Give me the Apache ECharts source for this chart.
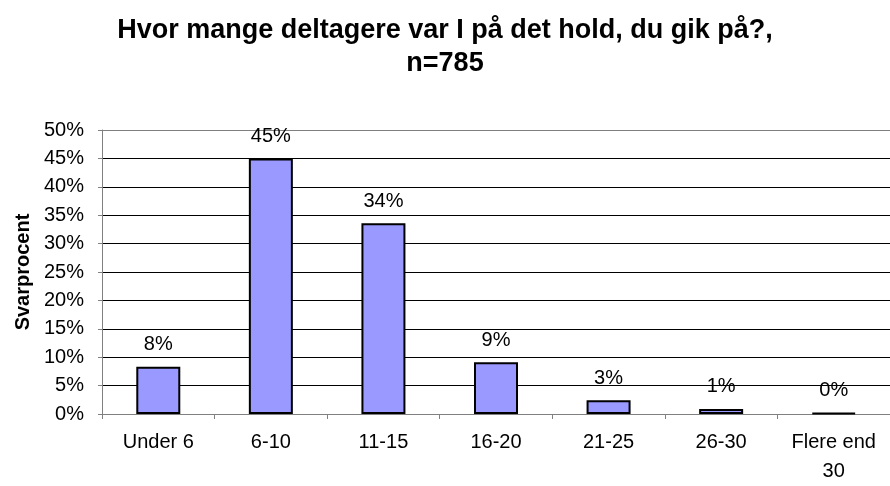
<!DOCTYPE html>
<html>
<head>
<meta charset="utf-8">
<script src="https://cdn.jsdelivr.net/npm/echarts@6/dist/echarts.min.js"></script>
<style>html,body{margin:0;padding:0;background:#fff;}#c{width:890px;height:486px;}</style>
</head>
<body>
<div id="c"></div>
<script>
const titleText = 'Hvor mange deltagere var I på det hold, du gik på?,\nn=785';
const yAxisName = 'Svarprocent';
const categories = ['Under 6', '6-10', '11-15', '16-20', '21-25', '26-30', 'Flere end\n30'];
const values = [8.3, 45.0, 33.6, 9.1, 2.4, 0.9, 0.2];
const labels = ['8%', '45%', '34%', '9%', '3%', '1%', '0%'];
const yTicks = [0, 5, 10, 15, 20, 25, 30, 35, 40, 45, 50];

const font = 'Arial, "Liberation Sans", Helvetica, sans-serif';
const chart = echarts.init(document.getElementById('c'), null, {renderer: 'canvas'});
chart.setOption({
  animation: false,
  backgroundColor: '#fff',
  title: {
    text: titleText,
    left: 'center',
    top: 9,
    textStyle: {fontFamily: font, fontWeight: 'bold', fontSize: 27, color: '#000', lineHeight: 33}
  },
  grid: {left: 102, right: -6, top: 130, bottom: 62, containLabel: false},
  xAxis: {
    type: 'category',
    data: categories,
    axisLine: {lineStyle: {color: '#808080', width: 1}},
    axisTick: {show: true, length: 5, lineStyle: {color: '#808080'}},
    axisLabel: {fontFamily: font, fontSize: 20, color: '#000', margin: 14, lineHeight: 29, interval: 0}
  },
  yAxis: {
    type: 'value',
    min: 0, max: 50, interval: 5,
    name: yAxisName,
    nameLocation: 'middle',
    nameGap: 68,
    nameTextStyle: {fontFamily: font, fontWeight: 'bold', fontSize: 20, color: '#000'},
    axisLine: {show: true, lineStyle: {color: '#808080'}},
    axisTick: {show: true, length: 4, lineStyle: {color: '#808080'}},
    axisLabel: {fontFamily: font, fontSize: 20, color: '#000', margin: 18,
      formatter: v => yTicks.includes(v) ? v + '%' : ''},
    splitLine: {show: true, lineStyle: {color: ['#808080','#000','#000','#000','#000','#000','#000','#000','#000','#000','#808080'], width: 1}}
  },
  series: [{
    type: 'bar',
    data: values,
    barWidth: 44,
    itemStyle: {color: '#9999FF', borderColor: '#000', borderWidth: 2},
    label: {
      show: true, position: 'top', distance: 12,
      fontFamily: font, fontSize: 20, color: '#000',
      formatter: p => labels[p.dataIndex]
    }
  }]
});
</script>
</body>
</html>
